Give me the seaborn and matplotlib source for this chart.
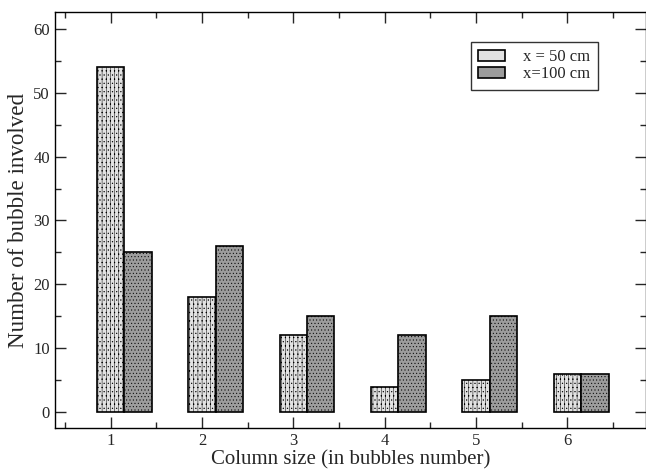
import numpy as np
import pandas as pd
import seaborn as sns
import matplotlib.pyplot as plt

# data
sizes = [1, 2, 3, 4, 5, 6]
n_50cm = [54, 18, 12, 4, 5, 6]
n_100cm = [25, 26, 15, 12, 15, 6]
labels = ["x = 50 cm", "x=100 cm"]
offset = 0.3   # 100 cm bar sits right of the 50 cm one

df = pd.DataFrame({
    "pos": [s for s in sizes] + [s + offset for s in sizes],
    "count": n_50cm + n_100cm,
    "series": [labels[0]] * len(sizes) + [labels[1]] * len(sizes),
})

sns.set_style("ticks")
plt.rcParams["font.family"] = ["Liberation Serif", "DejaVu Serif"]
plt.rcParams["hatch.linewidth"] = 0.35

fig = plt.figure(figsize=(6.46, 4.71), dpi=100)
ax = fig.add_axes([0.085, 0.091, 0.915, 0.884])

sns.barplot(data=df, x="pos", y="count", hue="series", native_scale=True,
            dodge=False, width=1.0, palette=["#e2e2e2", "#9c9c9c"],
            edgecolor="black", linewidth=1.2, ax=ax, legend=True)

hatches = {labels[0]: "||||....", labels[1]: "....."}
for cont, lab in zip(ax.containers, labels):
    for bar in cont:
        bar.set_hatch(hatches[lab])

ax.set_xlim(0.39, 6.86)
ax.set_ylim(-2.5, 62.66)
ax.set_xticks(sizes)
ax.set_xticklabels([str(s) for s in sizes])
ax.set_xticks(np.arange(0.5, 7.0, 1.0), minor=True)
ax.set_yticks(np.arange(0, 61, 10))
ax.set_yticks(np.arange(5, 61, 10), minor=True)
ax.tick_params(which="both", direction="in", top=True, right=True,
               labelsize=12, width=1)
ax.tick_params(which="major", length=8)
ax.tick_params(which="minor", length=4)
for s in ax.spines.values():
    s.set_linewidth(1)
    s.set_color("black")

ax.set_xlabel("Column size (in bubbles number)", fontsize=15, labelpad=1)
ax.set_ylabel("Number of bubble involved", fontsize=16.6, labelpad=3)

leg = ax.legend(loc="upper right", bbox_to_anchor=(0.919, 0.928),
                borderaxespad=0, fontsize=12, frameon=True, fancybox=False,
                edgecolor="black", handlelength=1.6, handleheight=0.6,
                borderpad=0.45, labelspacing=0.05, handletextpad=1.1)
leg.get_frame().set_linewidth(1)

fig.savefig("out.png", dpi=100)
